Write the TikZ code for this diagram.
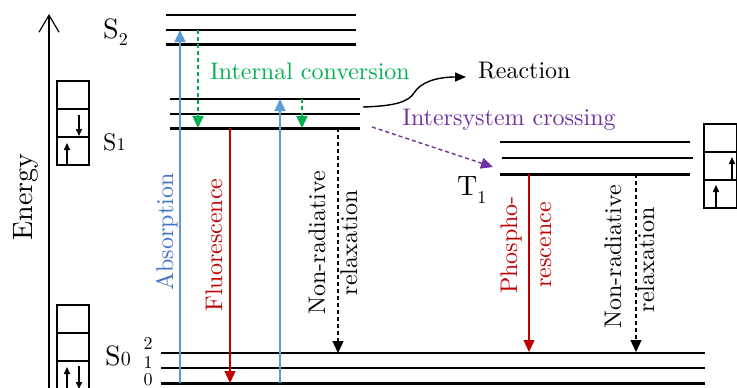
\documentclass[tikz,border=0pt]{standalone}
\usepackage{fontspec}
\setmainfont{lmroman10-regular.otf}
\usetikzlibrary{arrows.meta}
\definecolor{absline}{RGB}{91,155,213}
\definecolor{abstext}{RGB}{68,114,196}
\definecolor{icgreen}{RGB}{0,176,80}
\definecolor{flred}{RGB}{192,0,0}
\definecolor{iscpurple}{RGB}{112,48,160}
\begin{document}
\begin{tikzpicture}[x=1pt,y=-1pt,
  lvl/.style={line width=1.5pt},
  lvlthick/.style={line width=3pt},
  arr/.style={line width=1.4pt,-{Triangle[width=11pt,length=12pt]}},
  dsh/.style={dash pattern=on 4pt off 3pt},
  lbl/.style={font=\fontsize{24}{24}\selectfont,inner sep=0pt},
  big/.style={font=\fontsize{28}{28}\selectfont,inner sep=0pt},
  num/.style={font=\fontsize{18}{18}\selectfont,inner sep=0pt},
  boxln/.style={line width=1.8pt},
  spin/.style={line width=1.5pt,-{Triangle[width=6pt,length=7pt]}}]
\useasboundingbox (0,0) rectangle (737,388);

% energy axis
\coordinate (eb) at (49,388);
\coordinate (et) at (49,14);
\draw[line width=1.2pt,-{Straight Barb[length=17pt,width=20pt,line width=1.2pt]}] (eb) -- (et);
\node[big,rotate=90,anchor=base] (energy) at (32,197) {Energy};

% levels S2
\draw[lvl] (166,15) -- (356,15);
\draw[lvl] (166,30) -- (356,30);
\draw[lvlthick] (166,44) -- (356,44);
% levels S1
\draw[lvl] (170,99) -- (360,99);
\draw[lvl] (170,114) -- (360,114);
\draw[lvlthick] (170,128) -- (360,128);
% levels T1
\draw[lvl] (500,142) -- (690,142);
\draw[lvl] (502,158) -- (693,158);
\draw[lvlthick] (500,174) -- (690,174);
% levels S0
\draw[lvl] (161,353) -- (705,353);
\draw[lvl] (161,368) -- (705,368);
\draw[lvlthick] (161,383) -- (705,383);

% state labels
\node[big,anchor=base west] (s2) at (103,38) {S\raisebox{-7pt}{\fontsize{18}{18}\selectfont 2}};
\node[lbl,anchor=base west] (s1) at (103,150) {S{\fontsize{18}{18}\selectfont 1}};
\node[big,anchor=base west] (s0) at (105,365) {S{\fontsize{20}{20}\selectfont 0}};
\node[big,anchor=base west] (t1) at (457,195) {T\raisebox{-8pt}{\fontsize{18}{18}\selectfont 1}};
\node[num] (n2) at (148,344) {2};
\node[num] (n1) at (148,363) {1};
\node[num] (n0) at (148,380) {0};

% boxes
\draw[boxln] (57,81) rectangle (89,165);
\draw[boxln] (57,109) -- (89,109);
\draw[boxln] (57,137) -- (89,137);
\coordinate (b1a) at (79,115); \coordinate (b1b) at (79,136);
\coordinate (b1c) at (67,164); \coordinate (b1d) at (67,143);
\draw[spin] (b1a) -- (b1b);
\draw[spin] (b1c) -- (b1d);

\draw[boxln] (57,305) rectangle (89,392);
\draw[boxln] (57,333) -- (89,333);
\draw[boxln] (57,361) -- (89,361);
\coordinate (b0a) at (67,390); \coordinate (b0b) at (67,367);
\coordinate (b0c) at (79,366); \coordinate (b0d) at (79,389);
\draw[spin] (b0a) -- (b0b);
\draw[spin] (b0c) -- (b0d);

\draw[boxln] (704,124) rectangle (737,208);
\draw[boxln] (704,152) -- (737,152);
\draw[boxln] (704,180) -- (737,180);
\coordinate (btA) at (732,179); \coordinate (btB) at (732,157);
\coordinate (btC) at (716,207); \coordinate (btD) at (716,185);
\draw[spin] (btA) -- (btB);
\draw[spin] (btC) -- (btD);

% transitions
\coordinate (ab1s) at (180,383); \coordinate (ab1e) at (180,30);
\coordinate (ab2s) at (280,383); \coordinate (ab2e) at (280,99);
\draw[arr,absline] (ab1s) -- (ab1e);
\draw[arr,absline] (ab2s) -- (ab2e);
\node[lbl,abstext,rotate=90,anchor=base] (absorption) at (173,232) {Absorption};

\coordinate (ic1s) at (198,30); \coordinate (ic1e) at (198,128);
\coordinate (ic2s) at (302,99); \coordinate (ic2e) at (302,128);
\draw[arr,icgreen,dsh] (ic1s) -- (ic1e);
\draw[arr,icgreen,dsh] (ic2s) -- (ic2e);
\node[lbl,icgreen,anchor=base] (ic) at (310,79) {Internal conversion};

\coordinate (fls) at (230,128); \coordinate (fle) at (230,383);
\draw[arr,flred] (fls) -- (fle);
\node[lbl,flred,rotate=90,anchor=base] (fluo) at (222,245) {Fluorescence};

\coordinate (nr1s) at (338,128); \coordinate (nr1e) at (338,353);
\draw[arr,dsh] (nr1s) -- (nr1e);
\node[lbl,rotate=90,anchor=base] (nr1a) at (325,243) {Non-radiative};
\node[lbl,rotate=90,anchor=base] (nr1b) at (357,243) {relaxation};

\coordinate (iscs) at (372,127); \coordinate (isce) at (493,167);
\draw[arr,iscpurple,dsh] (iscs) -- (isce);
\node[lbl,iscpurple,anchor=base] (isc) at (509,125) {Intersystem crossing};

\coordinate (rxs) at (363,107); \coordinate (rxe) at (466,77);
\draw[line width=1.4pt,-{Triangle[width=9pt,length=11pt]}] (rxs) .. controls (395,106) and (408,102) .. (414,93) .. controls (420,83) and (435,77) .. (rxe);
\node[lbl,anchor=base west] (reaction) at (478,78) {Reaction};

\coordinate (phs) at (529,174); \coordinate (phe) at (529,352);
\draw[arr,flred] (phs) -- (phe);
\node[lbl,flred,rotate=90,anchor=base] (pha) at (517,245) {Phospho-};
\node[lbl,flred,rotate=90,anchor=base] (phb) at (551,245) {rescence};

\coordinate (nr2s) at (636,174); \coordinate (nr2e) at (636,352);
\draw[arr,dsh] (nr2s) -- (nr2e);
\node[lbl,rotate=90,anchor=base] (nr2a) at (621,257) {Non-radiative};
\node[lbl,rotate=90,anchor=base] (nr2b) at (654,260) {relaxation};
\end{tikzpicture}
\end{document}
